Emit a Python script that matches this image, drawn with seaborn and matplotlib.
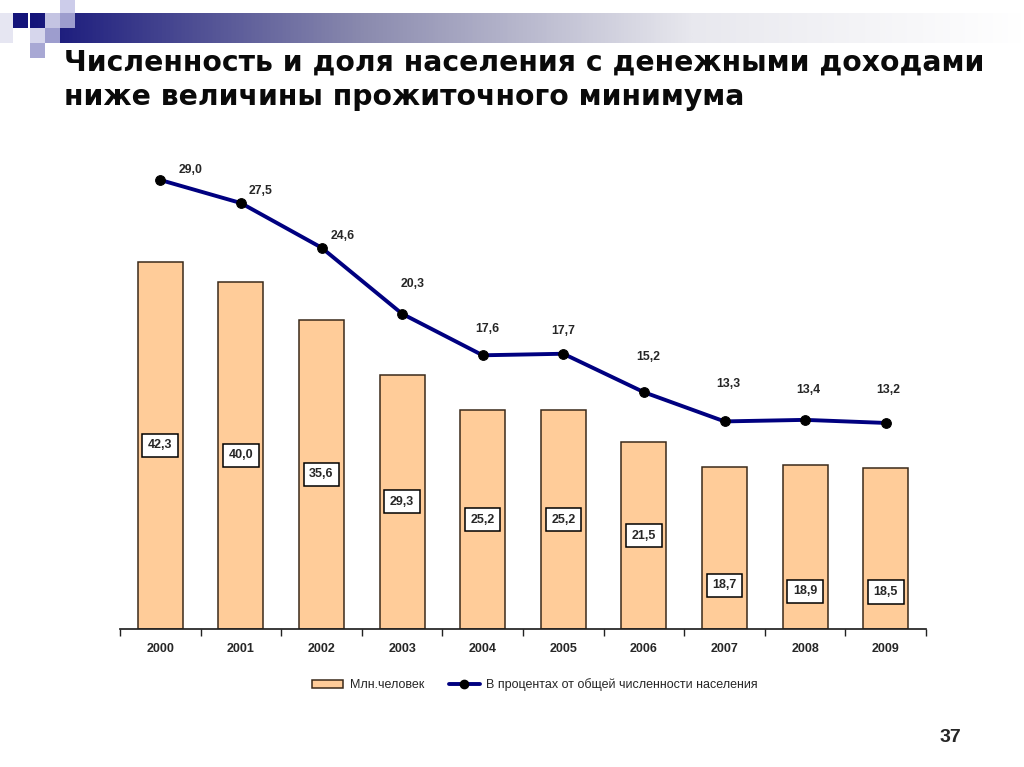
import numpy as np
import pandas as pd
import matplotlib
matplotlib.use("Agg")
import matplotlib.pyplot as plt
from matplotlib.patches import Rectangle, Patch
from matplotlib.lines import Line2D
import seaborn as sns

# ---------------------------------------------------------------
# DATI
# ---------------------------------------------------------------
anni = ["2000", "2001", "2002", "2003", "2004", "2005", "2006", "2007", "2008", "2009"]
mln_persone = [42.3, 40.0, 35.6, 29.3, 25.2, 25.2, 21.5, 18.7, 18.9, 18.5]
quota_pct = [29.0, 27.5, 24.6, 20.3, 17.6, 17.7, 15.2, 13.3, 13.4, 13.2]

titolo_1 = "Численность и доля населения с денежными доходами"
titolo_2 = "ниже величины прожиточного минимума"
etichetta_barre = "Млн.человек"
etichetta_linea = "В процентах от общей численности населения"
numero_pagina = "37"

# posizione verticale delle etichette dentro le barre (frazione dell'altezza)
pos_etichette = [0.5, 0.5, 0.5, 0.5, 0.5, 0.5, 0.5, 0.27, 0.23, 0.23]
# spostamento delle etichette della linea (pixel)
off_linea = [(30, 10), (20, 12), (21, 12), (11, 30), (5, 26), (0, 23), (4, 35), (4, 37), (3, 30), (3, 33)]

df = pd.DataFrame({"anno": anni, "mln": mln_persone, "pct": quota_pct})
df["pos"] = np.arange(len(df))

sns.set_theme(style="white")
plt.rcParams["font.family"] = ["Liberation Sans", "DejaVu Sans"]

fig = plt.figure(figsize=(10.24, 7.67), dpi=100)
W, H = 1024, 767

def box(x0, y0, x1, y1):
    # coordinate pixel (dall'alto) -> figura
    return [x0 / W, 1 - y1 / H, (x1 - x0) / W, (y1 - y0) / H]

# --- barra sfumata in alto ---
ax_g = fig.add_axes(box(30, 13, 1024, 43))
grad = np.linspace(0, 1, 512)[None, :]
cmap_g = matplotlib.colors.LinearSegmentedColormap.from_list("g", ["#14147a", "#8a8aae", "#e8e8ee", "#ffffff"])
ax_g.imshow(grad, aspect="auto", cmap=cmap_g, extent=[0, 1, 0, 1])
ax_g.axis("off")

# --- quadratini decorativi ---
quadrati = [
    (0, 13, 13, 43, "#e6e6f2"),
    (13, 13, 28, 28, "#14147a"),
    (60, 0, 75, 13, "#ccccea"),
    (45, 13, 60, 28, "#c4c4e2"),
    (60, 13, 75, 28, "#9d9dce"),
    (30, 28, 45, 43, "#d6d6ec"),
    (45, 28, 60, 43, "#9d9dce"),
    (30, 43, 45, 58, "#a8a8d4"),
]
for x0, y0, x1, y1, c in quadrati:
    b = box(x0, y0, x1, y1)
    fig.patches.append(Rectangle((b[0], b[1]), b[2], b[3], transform=fig.transFigure,
                                 facecolor=c, edgecolor="none", zorder=5))

for testo, y in [(titolo_1, 71), (titolo_2, 105)]:
    fig.text(64 / W, 1 - y / H, testo, fontsize=20.3, fontweight="bold", color="#0a0a0a",
             va="baseline", ha="left", family="DejaVu Sans")
fig.text(950 / W, 1 - 737 / H, numero_pagina, fontsize=14, fontweight="bold", ha="center", va="center")

# --- grafico ---
ax = fig.add_axes(box(120, 160, 926, 629))
sns.barplot(data=df, x="anno", y="mln", ax=ax, color="#FFCC99", saturation=1,
            width=0.56, edgecolor="#3a2a1a", linewidth=1.1)
ax.set_xlim(-0.5, len(anni) - 0.5)
ax.set_ylim(0, 54.0)

for i, (v, f) in enumerate(zip(mln_persone, pos_etichette)):
    ax.text(i, v * f, f"{v:.1f}".replace(".", ","), ha="center", va="center",
            fontsize=9, fontweight="bold",
            bbox=dict(boxstyle="square,pad=0.45", facecolor="white", edgecolor="black", linewidth=1.1))

ax2 = ax.twinx()
sns.lineplot(data=df, x="pos", y="pct", ax=ax2, color="#000080", linewidth=2.8,
             marker="o", markersize=7, markerfacecolor="black", markeredgecolor="black")
ax2.set_ylim(-0.2, 30.3)
for i, (v, (dx, dy)) in enumerate(zip(quota_pct, off_linea)):
    ax2.annotate(f"{v:.1f}".replace(".", ","), (i, v), xytext=(dx, dy), textcoords="offset pixels",
                 ha="center", va="center", fontsize=8.8, fontweight="bold")

for a in (ax, ax2):
    for s in ["top", "right", "left"]:
        a.spines[s].set_visible(False)
    a.set_ylabel("")
    a.set_xlabel("")
    a.set_yticks([])
ax.spines["bottom"].set_color("#222222")
ax2.spines["bottom"].set_visible(False)
ax2.tick_params(axis="x", which="both", bottom=False, labelbottom=False)

ax.set_xlim(-0.5, len(anni) - 0.5)
ax.set_xticks(np.arange(len(anni)))
ax.set_xticklabels(anni, fontsize=9, fontweight="bold")
ax.tick_params(axis="x", which="major", length=0, pad=10, labelbottom=True)
ax.set_xticks(np.arange(len(anni) + 1) - 0.5, minor=True)
ax.tick_params(axis="x", which="minor", length=5, width=1, color="#222222", direction="out", bottom=True)

handles = [Patch(facecolor="#FFCC99", edgecolor="#3a2a1a", linewidth=1.1),
           Line2D([], [], color="#000080", linewidth=2.8, marker="o", markersize=6,
                  markerfacecolor="black", markeredgecolor="black")]
fig.legend(handles, [etichetta_barre, etichetta_linea], loc="center", bbox_to_anchor=(535 / W, 1 - 685 / H),
           ncol=2, frameon=False, fontsize=9, handlelength=2.5, columnspacing=2.0, handletextpad=0.5)

fig.savefig("out.png", dpi=100)
